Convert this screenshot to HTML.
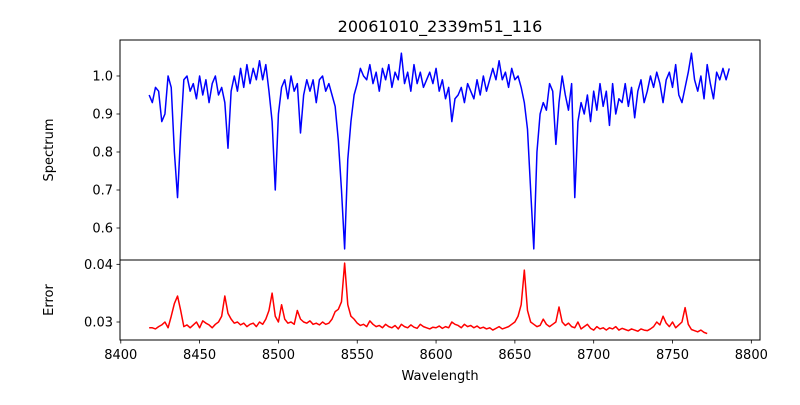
<!DOCTYPE html>
<html><head><meta charset="utf-8"><style>
body{margin:0;background:#fff;}
svg text{font-family:"DejaVu Sans","Liberation Sans",sans-serif;fill:#000;}
</style></head><body>
<svg id="chart" width="800" height="400" viewBox="0 0 800 400">
<rect width="800" height="400" fill="#fff"/>
<text x="440" y="32" font-size="16" text-anchor="middle">20061010_2339m51_116</text>
<g id="topg"></g>
<g id="botg"></g>
<text x="440" y="380" font-size="13" text-anchor="middle">Wavelength</text>
<text transform="translate(53,150) rotate(-90)" font-size="13" text-anchor="middle">Spectrum</text>
<text transform="translate(53,300) rotate(-90)" font-size="13" text-anchor="middle">Error</text>
</svg>
<script>
const wlStart = 8418, wlStep = 2;
const spectrum = [0.95,0.93,0.97,0.96,0.88,0.90,1.00,0.97,0.80,0.68,0.85,0.99,1.00,0.96,0.98,0.94,1.00,0.95,0.99,0.93,0.98,1.00,0.95,0.97,0.93,0.81,0.96,1.00,0.96,1.02,0.97,1.03,0.98,1.02,0.99,1.04,0.99,1.03,0.96,0.88,0.70,0.90,0.97,0.99,0.94,1.00,0.96,0.98,0.85,0.95,0.99,0.96,0.99,0.93,0.99,1.00,0.96,0.98,0.95,0.92,0.83,0.70,0.545,0.78,0.88,0.95,0.98,1.02,1.00,0.99,1.03,0.98,1.01,0.96,1.02,0.99,1.03,0.97,1.01,0.99,1.06,0.98,1.01,0.96,1.03,0.98,1.01,0.97,0.99,1.01,0.98,1.02,0.96,0.99,0.94,0.97,0.88,0.94,0.95,0.97,0.93,0.98,0.96,0.94,0.99,0.95,1.00,0.96,0.99,1.02,0.99,1.04,0.99,1.01,0.97,1.02,0.99,1.00,0.97,0.93,0.86,0.70,0.545,0.80,0.90,0.93,0.91,0.98,0.96,0.82,0.93,1.00,0.95,0.91,0.98,0.68,0.88,0.93,0.90,0.95,0.88,0.96,0.91,0.98,0.92,0.96,0.87,0.98,0.90,0.94,0.93,0.98,0.92,0.97,0.89,0.96,0.99,0.93,0.96,1.00,0.97,1.01,0.98,0.93,0.99,1.01,0.97,1.03,0.95,0.93,0.97,1.01,1.06,0.99,0.96,1.00,0.94,1.03,0.98,0.94,1.01,0.99,1.02,0.99,1.02];
const errorVals = [0.0290,0.0290,0.0288,0.0292,0.0295,0.0300,0.0290,0.0310,0.0332,0.0345,0.0320,0.0292,0.0295,0.0290,0.0295,0.0300,0.0290,0.0302,0.0298,0.0295,0.0290,0.0296,0.0300,0.0310,0.0345,0.0315,0.0305,0.0298,0.0300,0.0295,0.0298,0.0292,0.0296,0.0298,0.0292,0.0300,0.0296,0.0305,0.0320,0.0350,0.0310,0.0300,0.0330,0.0305,0.0298,0.0300,0.0296,0.0320,0.0305,0.0300,0.0298,0.0302,0.0296,0.0298,0.0295,0.0300,0.0296,0.0298,0.0305,0.0318,0.0322,0.0335,0.0402,0.0330,0.0310,0.0305,0.0298,0.0294,0.0296,0.0292,0.0302,0.0296,0.0292,0.0294,0.0290,0.0296,0.0292,0.0290,0.0294,0.0288,0.0296,0.0292,0.0290,0.0295,0.0291,0.0289,0.0296,0.0292,0.0290,0.0288,0.0291,0.0290,0.0293,0.0289,0.0292,0.0290,0.0300,0.0296,0.0294,0.0290,0.0296,0.0292,0.0294,0.0290,0.0293,0.0289,0.0291,0.0288,0.0290,0.0286,0.0289,0.0292,0.0288,0.0290,0.0292,0.0296,0.0300,0.0310,0.0330,0.0390,0.0320,0.0300,0.0296,0.0292,0.0294,0.0305,0.0296,0.0292,0.0296,0.0300,0.0326,0.0300,0.0294,0.0298,0.0292,0.0290,0.0300,0.0288,0.0292,0.0296,0.0289,0.0286,0.0292,0.0288,0.0290,0.0286,0.0290,0.0288,0.0292,0.0286,0.0289,0.0287,0.0285,0.0288,0.0286,0.0284,0.0288,0.0286,0.0285,0.0288,0.0292,0.0300,0.0295,0.0310,0.0298,0.0292,0.0300,0.0290,0.0295,0.0300,0.0325,0.0296,0.0287,0.0285,0.0283,0.0286,0.0282,0.0280];
const xTicks = [8400,8450,8500,8550,8600,8650,8700,8750,8800];
const topTicks = [0.6,0.7,0.8,0.9,1.0];
const topTickLabels = ["0.6","0.7","0.8","0.9","1.0"];
const botTicks = [0.03,0.04];
const botTickLabels = ["0.03","0.04"];

const L=120,R=760,T1=40,B1=260,T2=260,B2=340;
const xMin=8399.5,xMax=8805.5, y1Min=0.5158,y1Max=1.0947, y2Min=0.02688,y2Max=0.04075;
const sx=v=>L+(v-xMin)/(xMax-xMin)*(R-L);
const sy1=v=>B1-(v-y1Min)/(y1Max-y1Min)*(B1-T1);
const sy2=v=>B2-(v-y2Min)/(y2Max-y2Min)*(B2-T2);
const NS="http://www.w3.org/2000/svg";
function mk(tag,attrs,parent){const e=document.createElementNS(NS,tag);for(const k in attrs)e.setAttribute(k,attrs[k]);parent.appendChild(e);return e;}
const topG=document.getElementById('topg'), botG=document.getElementById('botg');

function drawLine(vals,sy,color,parent,name){
  const d=vals.map((v,i)=>(i?'L':'M')+sx(wlStart+i*wlStep).toFixed(2)+','+sy(v).toFixed(2)).join('');
  const p=mk('path',{d:d,fill:'none',stroke:color,'stroke-width':1.5,'stroke-linejoin':'round'},parent);
  
  
}
drawLine(spectrum,sy1,'#0000ff',topG,'spectrum-line');
drawLine(errorVals,sy2,'#ff0000',botG,'error-line');

topTicks.forEach((v,i)=>{
  const y=sy1(v);
  mk('line',{x1:L-3.5,x2:L,y1:y,y2:y,stroke:'#000','stroke-width':0.8},topG);
  const t=mk('text',{x:L-7,y:y+4.5,'font-size':13,'text-anchor':'end'},topG);
  t.textContent=topTickLabels[i];
  
  
});
botTicks.forEach((v,i)=>{
  const y=sy2(v);
  mk('line',{x1:L-3.5,x2:L,y1:y,y2:y,stroke:'#000','stroke-width':0.8},botG);
  const t=mk('text',{x:L-7,y:y+4.5,'font-size':13,'text-anchor':'end'},botG);
  t.textContent=botTickLabels[i];
  
  
});
xTicks.forEach(v=>{
  const x=sx(v);
  mk('line',{x1:x,x2:x,y1:B2,y2:B2+3.5,stroke:'#000','stroke-width':0.8},botG);
  const t=mk('text',{x:x,y:B2+19,'font-size':13,'text-anchor':'middle'},botG);
  t.textContent=String(v);
  
  
});
mk('rect',{x:L,y:T1,width:R-L,height:B1-T1,fill:'none',stroke:'#000','stroke-width':1},topG);
mk('rect',{x:L,y:T2,width:R-L,height:B2-T2,fill:'none',stroke:'#000','stroke-width':1},botG);
</script>
</body></html>
